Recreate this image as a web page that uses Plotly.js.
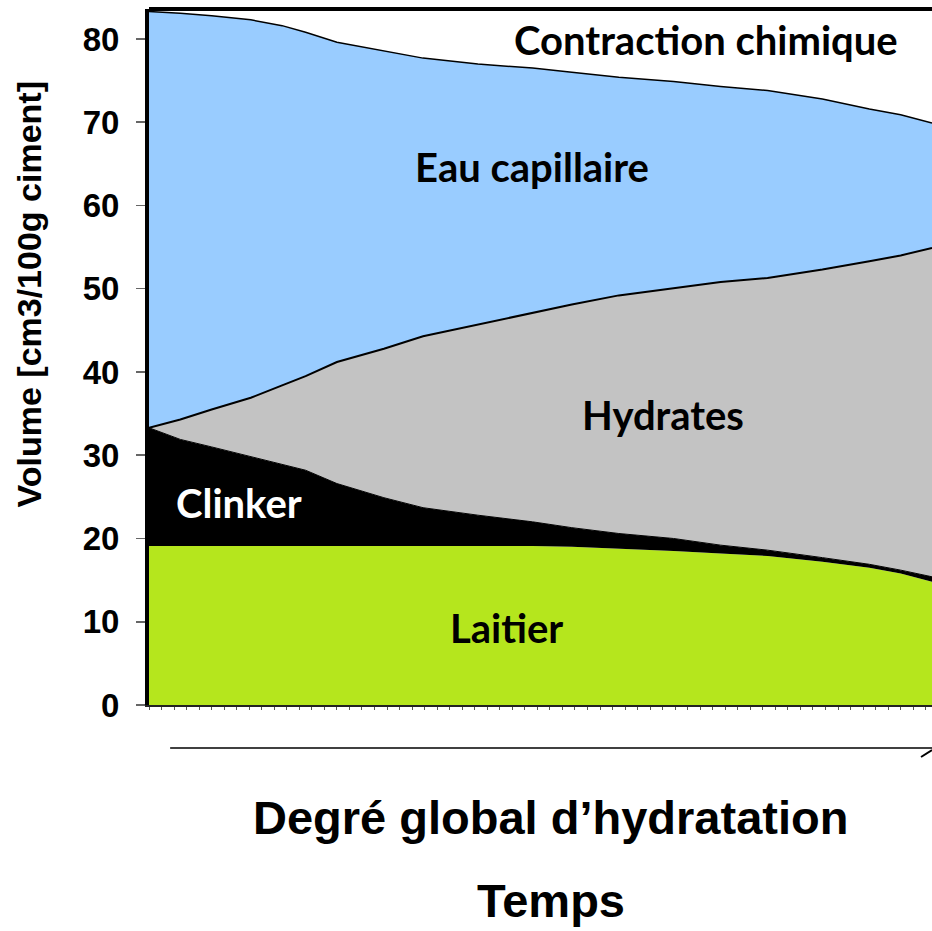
<!DOCTYPE html>
<html>
<head>
<meta charset="utf-8">
<script src="https://cdn.plot.ly/plotly-3.0.1.min.js"></script>
<style>
   html, body { margin: 0; padding: 0; background: #fff; }
   #myDiv { width: 932px; height: 931px; }
</style>
</head>
<body>
<div id="myDiv"></div>
<script>
// degre global d'hydratation, 0 -> 1 along the time axis
var hydration = [0, 0.04, 0.08, 0.13, 0.17, 0.2, 0.24, 0.3, 0.35, 0.42, 0.49, 0.54, 0.6, 0.67, 0.73, 0.79, 0.86, 0.92, 0.96, 1.0];

// volumes in cm3/100g ciment, stacked from the bottom up
var laitier = [19.1, 19.1, 19.1, 19.1, 19.1, 19.1, 19.1, 19.1, 19.1, 19.1, 19.1, 19.0, 18.8, 18.5, 18.2, 17.9, 17.2, 16.5, 15.8, 14.8];
var clinker = [14.2, 12.8, 11.9, 10.7, 9.8, 9.1, 7.5, 5.8, 4.6, 3.7, 2.9, 2.3, 1.8, 1.5, 1.0, 0.7, 0.5, 0.4, 0.4, 0.6];
var hydrates = [0, 2.4, 4.5, 7.1, 9.5, 11.3, 14.6, 17.9, 20.6, 22.9, 25.1, 26.8, 28.6, 30.1, 31.6, 32.7, 34.6, 36.4, 37.8, 39.5];
var eauCapillaire = [50.0, 48.8, 47.3, 45.4, 43.2, 41.3, 38.4, 35.8, 33.4, 31.3, 29.4, 27.9, 26.2, 24.8, 23.5, 22.5, 20.5, 18.3, 16.9, 15.0];

var yTicks = [0, 10, 20, 30, 40, 50, 60, 70, 80];

var labelFont = { family: 'Lato, "Open Sans", sans-serif', size: 40, weight: 'bold', color: '#000' };
var arialBold = 'Liberation Sans, Arial, sans-serif';

var traceLaitier = {
   x: hydration, y: laitier, name: 'Laitier',
   type: 'scatter', mode: 'lines', stackgroup: 'vol',
   fillcolor: '#B5E61D', line: { width: 0, color: '#B5E61D' }
};
var traceClinker = {
   x: hydration, y: clinker, name: 'Clinker',
   type: 'scatter', mode: 'lines', stackgroup: 'vol',
   fillcolor: '#000000', line: { width: 1, color: '#000000' }
};
var traceHydrates = {
   x: hydration, y: hydrates, name: 'Hydrates',
   type: 'scatter', mode: 'lines', stackgroup: 'vol',
   fillcolor: '#C3C3C3', line: { width: 2, color: '#000000' }
};
var traceEau = {
   x: hydration, y: eauCapillaire, name: 'Eau capillaire',
   type: 'scatter', mode: 'lines', stackgroup: 'vol',
   fillcolor: '#99CCFF', line: { width: 1.5, color: '#000000' }
};

var data = [traceLaitier, traceClinker, traceHydrates, traceEau];

var layout = {
   width: 932,
   height: 931,
   margin: { l: 149, r: 0, t: 9, b: 226 },
   paper_bgcolor: '#ffffff',
   plot_bgcolor: '#ffffff',
   showlegend: false,
   hovermode: false,
   xaxis: {
      range: [0, 1],
      showgrid: false,
      zeroline: false,
      showticklabels: false,
      showline: true,
      linecolor: '#222',
      linewidth: 2,
      ticks: 'outside',
      ticklen: 3,
      tickcolor: '#555',
      tickmode: 'linear',
      tick0: 0,
      dtick: 0.016
   },
   yaxis: {
      range: [0, 83.6],
      tickvals: yTicks,
      showgrid: false,
      zeroline: false,
      showline: true,
      linecolor: '#000',
      linewidth: 4,
      ticks: 'outside',
      ticklen: 9,
      tickwidth: 1.5,
      tickcolor: '#666',
      ticklabelstandoff: 10,
      tickfont: { family: arialBold, size: 33, weight: 'bold', color: '#000' }
   },
   shapes: [
      { type: 'line', xref: 'paper', yref: 'paper', x0: 0, x1: 1.01, y0: 1, y1: 1,
        line: { color: '#000', width: 4 } },
      { type: 'line', xref: 'paper', yref: 'paper', x0: 0.027, x1: 1.01, y0: -0.0618, y1: -0.0618,
        line: { color: '#000', width: 1.5 } },
      { type: 'line', xref: 'paper', yref: 'paper', x0: 0.986, x1: 1.0, y0: -0.0747, y1: -0.0647,
        line: { color: '#000', width: 2 } }
   ],
   annotations: [
      { x: 0.711, y: 79.9, xref: 'x', yref: 'y', text: 'Contraction chimique', showarrow: false, font: labelFont },
      { x: 0.489, y: 64.6, xref: 'x', yref: 'y', text: 'Eau capillaire', showarrow: false, font: labelFont },
      { x: 0.656, y: 34.8, xref: 'x', yref: 'y', text: 'Hydrates', showarrow: false, font: labelFont },
      { x: 0.115, y: 24.3, xref: 'x', yref: 'y', text: 'Clinker', showarrow: false,
        font: { family: labelFont.family, size: 40, weight: 'bold', color: '#ffffff' } },
      { x: 0.457, y: 9.3, xref: 'x', yref: 'y', text: 'Laitier', showarrow: false, font: labelFont },
      { x: -0.18, y: 0.59, xref: 'paper', yref: 'paper', text: 'Volume [cm3/100g ciment]', textangle: -90,
        showarrow: false, font: { family: arialBold, size: 34, weight: 'bold', color: '#000' } },
      { x: 0.513, y: -0.203, xref: 'paper', yref: 'paper', text: 'Degré global d’hydratation',
        showarrow: false, font: { family: arialBold, size: 47, weight: 'bold', color: '#000' } },
      { x: 0.513, y: -0.322, xref: 'paper', yref: 'paper', text: 'Temps',
        showarrow: false, font: { family: arialBold, size: 47, weight: 'bold', color: '#000' } }
   ]
};

Plotly.newPlot('myDiv', data, layout, { staticPlot: true, displayModeBar: false });
</script>
</body>
</html>
